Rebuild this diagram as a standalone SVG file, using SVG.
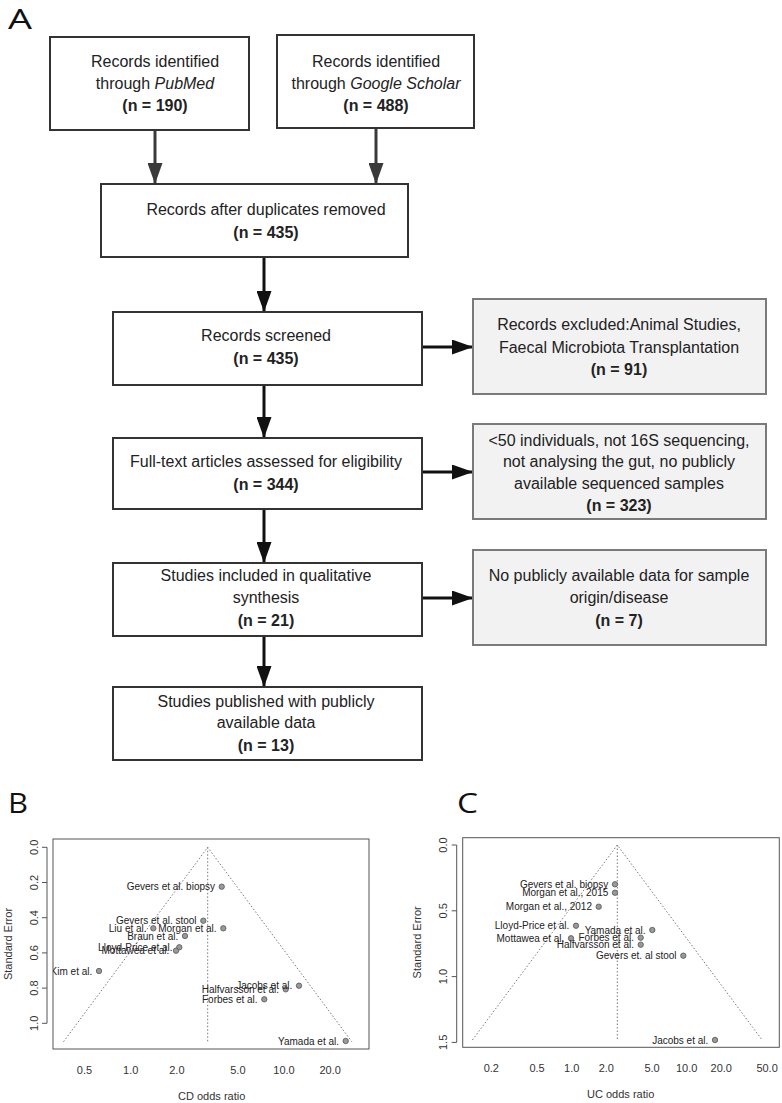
<svg xmlns="http://www.w3.org/2000/svg" width="782" height="1103" viewBox="0 0 782 1103">
<style>
.box{fill:#fff;stroke:#333;stroke-width:2}
.gbox{fill:#f2f2f2;stroke:#7a7a7a;stroke-width:2}
.t{font-family:"Liberation Sans",Arial,sans-serif;font-size:16px;fill:#222;text-anchor:middle}
.b{font-weight:bold}
.i{font-style:italic}
.arr{stroke:#111;stroke-width:3;fill:none}
.panel{font-family:"Open Sans","DejaVu Sans",sans-serif;font-size:27px;fill:#111}
.frame{fill:none;stroke:#555;stroke-width:1}
.funnel{fill:none;stroke:#777;stroke-width:1;stroke-dasharray:1.5 2}
.lab{font-family:"Liberation Sans",Arial,sans-serif;font-size:10px;fill:#222;text-anchor:end}
.ax{font-family:"Liberation Sans",Arial,sans-serif;font-size:11px;fill:#333;text-anchor:middle}
.pt{fill:#999;stroke:#555;stroke-width:0.8}
</style>
<defs>
<marker id="ah" markerUnits="userSpaceOnUse" markerWidth="21" markerHeight="15" refX="21" refY="7.5" orient="auto" viewBox="0 0 21 15">
<path d="M0,0 L21,7.5 L0,15 z" fill="#111"/>
</marker>
<marker id="ah2" markerUnits="userSpaceOnUse" markerWidth="21" markerHeight="15" refX="21" refY="7.5" orient="auto" viewBox="0 0 21 15">
<path d="M0,0 L21,7.5 L0,15 z" fill="#3a3a3a"/>
</marker>
<clipPath id="clipB"><rect x="53" y="839" width="316" height="210"/></clipPath>
<clipPath id="clipC"><rect x="463" y="838" width="316" height="209"/></clipPath>
</defs>

<text class="panel" x="8" y="29" textLength="24" lengthAdjust="spacingAndGlyphs">A</text>

<g id="connectors">
<line x1="155" y1="130" x2="155" y2="184" stroke="#3a3a3a" stroke-width="3" marker-end="url(#ah2)"/>
<line x1="376" y1="128" x2="376" y2="184" stroke="#3a3a3a" stroke-width="3" marker-end="url(#ah2)"/>
<line class="arr" x1="264" y1="257" x2="264" y2="312" marker-end="url(#ah)"/>
<line class="arr" x1="264" y1="385" x2="264" y2="438" marker-end="url(#ah)"/>
<line class="arr" x1="264" y1="509" x2="264" y2="563" marker-end="url(#ah)"/>
<line class="arr" x1="264" y1="636" x2="264" y2="687" marker-end="url(#ah)"/>
<line class="arr" x1="422" y1="347" x2="473" y2="347" marker-end="url(#ah)"/>
<line class="arr" x1="422" y1="472" x2="473" y2="472" marker-end="url(#ah)"/>
<line class="arr" x1="422" y1="598" x2="473" y2="598" marker-end="url(#ah)"/>
</g>

<g id="n-pubmed">
<rect class="box" x="50" y="37" width="199" height="93"/>
<text class="t" x="155" y="67">Records identified</text>
<text class="t" x="155" y="89">through <tspan class="i">PubMed</tspan></text>
<text class="t b" x="155" y="111">(n = 190)</text>
</g>
<g id="n-scholar">
<rect class="box" x="277" y="35" width="197" height="93"/>
<text class="t" x="376" y="67">Records identified</text>
<text class="t" x="376" y="89">through <tspan class="i">Google Scholar</tspan></text>
<text class="t b" x="376" y="111">(n = 488)</text>
</g>
<g id="n-dups">
<rect class="box" x="101" y="184" width="307" height="73"/>
<text class="t" x="266" y="215">Records after duplicates removed</text>
<text class="t b" x="266" y="238">(n = 435)</text>
</g>
<g id="n-screened">
<rect class="box" x="113" y="312" width="309" height="73"/>
<text class="t" x="266" y="341">Records screened</text>
<text class="t b" x="266" y="364">(n = 435)</text>
</g>
<g id="n-excl1">
<rect class="gbox" x="473" y="299" width="293" height="95"/>
<text class="t" x="619" y="330">Records excluded:Animal Studies,</text>
<text class="t" x="619" y="353">Faecal Microbiota Transplantation</text>
<text class="t b" x="619" y="375">(n = 91)</text>
</g>
<g id="n-fulltext">
<rect class="box" x="113" y="438" width="309" height="71"/>
<text class="t" x="266" y="467">Full-text articles assessed for eligibility</text>
<text class="t b" x="266" y="490">(n = 344)</text>
</g>
<g id="n-excl2">
<rect class="gbox" x="473" y="424" width="293" height="95"/>
<text class="t" x="619" y="446">&lt;50 individuals, not 16S sequencing,</text>
<text class="t" x="619" y="467">not analysing the gut, no publicly</text>
<text class="t" x="619" y="489">available sequenced samples</text>
<text class="t b" x="619" y="511">(n = 323)</text>
</g>
<g id="n-qual">
<rect class="box" x="113" y="563" width="309" height="73"/>
<text class="t" x="266" y="581">Studies included in qualitative</text>
<text class="t" x="266" y="603">synthesis</text>
<text class="t b" x="266" y="626">(n = 21)</text>
</g>
<g id="n-excl3">
<rect class="gbox" x="473" y="550" width="293" height="95"/>
<text class="t" x="619" y="581">No publicly available data for sample</text>
<text class="t" x="619" y="603">origin/disease</text>
<text class="t b" x="619" y="626">(n = 7)</text>
</g>
<g id="n-published">
<rect class="box" x="113" y="687" width="309" height="73"/>
<text class="t" x="266" y="707">Studies published with publicly</text>
<text class="t" x="266" y="728">available data</text>
<text class="t b" x="266" y="751">(n = 13)</text>
</g>

<!-- Panel B -->
<g id="plotB">
<text class="panel" x="8" y="813" font-size="30" textLength="20" lengthAdjust="spacingAndGlyphs">B</text>
<rect class="frame" x="53" y="839" width="316" height="210"/>
<path class="frame" d="M47,847.3 V1023.3 M47,847.3 H42 M47,882.5 H42 M47,917.7 H42 M47,952.9 H42 M47,988.1 H42 M47,1023.3 H42"/>
<g class="ax">
<text transform="translate(37.5,847.3) rotate(-90)">0.0</text>
<text transform="translate(37.5,882.5) rotate(-90)">0.2</text>
<text transform="translate(37.5,917.7) rotate(-90)">0.4</text>
<text transform="translate(37.5,952.9) rotate(-90)">0.6</text>
<text transform="translate(37.5,988.1) rotate(-90)">0.8</text>
<text transform="translate(37.5,1023.3) rotate(-90)">1.0</text>
<text x="84.5" y="1074">0.5</text>
<text x="130.7" y="1074">1.0</text>
<text x="176.9" y="1074">2.0</text>
<text x="237.9" y="1074">5.0</text>
<text x="284" y="1074">10.0</text>
<text x="330.2" y="1074">20.0</text>
<text x="211.7" y="1100">CD odds ratio</text>
<text transform="translate(11.5,944) rotate(-90)">Standard Error</text>
</g>
<path class="funnel" d="M63.5,1041.7 L207.7,847.3 L351.8,1041.7 M207.7,847.3 V1041.7"/>
<g class="pts">
<circle class="pt" cx="221.7" cy="886.7" r="2.7"/>
<circle class="pt" cx="203.3" cy="920.7" r="2.7"/>
<circle class="pt" cx="153.3" cy="928.3" r="2.7"/>
<circle class="pt" cx="223.3" cy="928.3" r="2.7"/>
<circle class="pt" cx="185" cy="936" r="2.7"/>
<circle class="pt" cx="179.3" cy="947.3" r="2.7"/>
<circle class="pt" cx="176" cy="950.7" r="2.7"/>
<circle class="pt" cx="99" cy="971" r="2.7"/>
<circle class="pt" cx="299" cy="985.7" r="2.7"/>
<circle class="pt" cx="285.7" cy="989.3" r="2.7"/>
<circle class="pt" cx="264.3" cy="999.3" r="2.7"/>
<circle class="pt" cx="345.7" cy="1041" r="2.7"/>
</g>
<g class="lab" clip-path="url(#clipB)">
<text x="215" y="890.2">Gevers et al. biopsy</text>
<text x="196.6" y="924.2">Gevers et al. stool</text>
<text x="146.6" y="931.8">Liu et al.</text>
<text x="216.6" y="931.8">Morgan et al.</text>
<text x="178.3" y="939.5">Braun et al.</text>
<text x="172.6" y="950.8">Lloyd-Price et al.</text>
<text x="169.3" y="954.2">Mottawea et al.</text>
<text x="92.3" y="974.5">Kim et al.</text>
<text x="292.3" y="989.2">Jacobs et al.</text>
<text x="279" y="992.8">Halfvarsson et al.</text>
<text x="257.6" y="1002.8">Forbes et al.</text>
<text x="339" y="1044.5">Yamada et al.</text>
</g>
</g>

<!-- Panel C -->
<g id="plotC">
<text class="panel" x="457" y="813" font-size="30" textLength="21" lengthAdjust="spacingAndGlyphs">C</text>
<rect class="frame" x="462.7" y="837.7" width="316.6" height="209.6"/>
<path class="frame" d="M456.7,845 V1042.4 M456.7,845 H451.7 M456.7,910.8 H451.7 M456.7,976.6 H451.7 M456.7,1042.4 H451.7"/>
<g class="ax">
<text transform="translate(446.7,845) rotate(-90)">0.0</text>
<text transform="translate(446.7,910.8) rotate(-90)">0.5</text>
<text transform="translate(446.7,976.6) rotate(-90)">1.0</text>
<text transform="translate(446.7,1042.4) rotate(-90)">1.5</text>
<text x="491.3" y="1072">0.2</text>
<text x="537.1" y="1072">0.5</text>
<text x="571.7" y="1072">1.0</text>
<text x="606.3" y="1072">2.0</text>
<text x="652.1" y="1072">5.0</text>
<text x="686.7" y="1072">10.0</text>
<text x="721.3" y="1072">20.0</text>
<text x="767.1" y="1072">50.0</text>
<text x="620.7" y="1098">UC odds ratio</text>
<text transform="translate(420.5,942.3) rotate(-90)">Standard Error</text>
</g>
<path class="funnel" d="M472.4,1040 L617.3,845 L762.1,1040 M617.3,845 V1040"/>
<g class="pts">
<circle class="pt" cx="615" cy="884.3" r="2.7"/>
<circle class="pt" cx="615" cy="892.7" r="2.7"/>
<circle class="pt" cx="598.7" cy="906.7" r="2.7"/>
<circle class="pt" cx="576" cy="925.7" r="2.7"/>
<circle class="pt" cx="652.3" cy="930" r="2.7"/>
<circle class="pt" cx="571" cy="938.3" r="2.7"/>
<circle class="pt" cx="640.7" cy="937.7" r="2.7"/>
<circle class="pt" cx="640.7" cy="944.7" r="2.7"/>
<circle class="pt" cx="683.3" cy="955.7" r="2.7"/>
<circle class="pt" cx="715" cy="1040" r="2.7"/>
</g>
<g class="lab" clip-path="url(#clipC)">
<text x="608.3" y="887.8">Gevers et al. biopsy</text>
<text x="608.3" y="896.2">Morgan et al., 2015</text>
<text x="592" y="910.2">Morgan et al., 2012</text>
<text x="569.3" y="929.2">Lloyd-Price et al.</text>
<text x="645.6" y="933.5">Yamada et al.</text>
<text x="564.3" y="941.8">Mottawea et al.</text>
<text x="634" y="941.2">Forbes et al.</text>
<text x="634" y="948.2">Halfvarsson et al.</text>
<text x="676.6" y="959.2">Gevers et. al stool</text>
<text x="708.3" y="1043.5">Jacobs et al.</text>
</g>
</g>
</svg>
